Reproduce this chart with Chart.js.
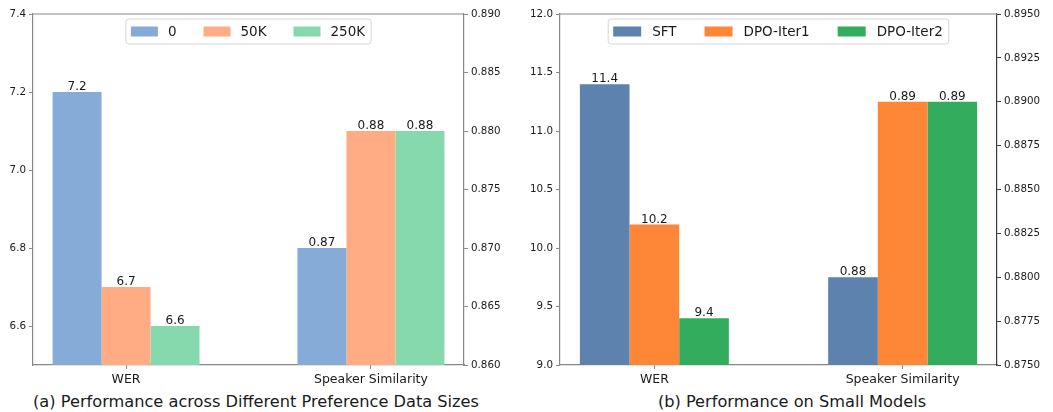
<!DOCTYPE html>
<html>
<head>
<meta charset="utf-8">
<script src="https://cdn.jsdelivr.net/npm/chart.js@4.4.1/dist/chart.umd.min.js"></script>
<style>
  html, body { margin: 0; padding: 0; background: #fff; }
  body { width: 1053px; height: 412px; position: relative; overflow: hidden; font-family: 'DejaVu Sans', sans-serif; }
  .panel { position: absolute; top: 0; height: 390px; }
  .caption { position: absolute; top: 392px; font-size: 16.2px; line-height: 20px; color: #1a1a1a; white-space: nowrap; transform: translateX(-50%); }
</style>
</head>
<body>
<div class="panel" style="left:0;width:525px"><canvas id="chartSizes"></canvas></div>
<div class="panel" style="left:525px;width:528px"><canvas id="chartModels"></canvas></div>
<div class="caption" style="left:256px">(a) Performance across Different Preference Data Sizes</div>
<div class="caption" style="left:792px">(b) Performance on Small Models</div>
<script>
const categories = ['WER', 'Speaker Similarity'];

// (a) preference data sizes
const sizeNames = ['0', '50K', '250K'];
const sizeWer = [7.2, 6.7, 6.6];
const sizeSim = [0.870, 0.880, 0.880];
const sizeColors = ['#84acd6', '#ffac85', '#86d8ad'];
const sizeWerTicks = [6.6, 6.8, 7.0, 7.2, 7.4];
const sizeSimTicks = [0.860, 0.865, 0.870, 0.875, 0.880, 0.885, 0.890];

// (b) small models
const modelNames = ['SFT', 'DPO-Iter1', 'DPO-Iter2'];
const modelWer = [11.4, 10.2, 9.4];
const modelSim = [0.880, 0.890, 0.890];
const modelColors = ['#5d82ad', '#fe8637', '#33ac5d'];
const modelWerTicks = [9.0, 9.5, 10.0, 10.5, 11.0, 11.5, 12.0];
const modelSimTicks = [0.8750, 0.8775, 0.8800, 0.8825, 0.8850, 0.8875, 0.8900, 0.8925, 0.8950];

Chart.defaults.font.family = "'DejaVu Sans', sans-serif";
Chart.defaults.color = '#1a1a1a';

const spineGray = '#888888';

// value labels on top of each bar
const barLabels = {
    id: 'barLabels',
    afterDatasetsDraw(chart) {
        const ctx = chart.ctx;
        ctx.save();
        ctx.font = "12px 'DejaVu Sans'";
        ctx.fillStyle = '#1a1a1a';
        ctx.textAlign = 'center';
        ctx.textBaseline = 'alphabetic';
        chart.data.datasets.forEach((ds, di) => {
            const meta = chart.getDatasetMeta(di);
            meta.data.forEach((bar, j) => {
                const v = ds.data[j].y;
                ctx.fillText(String(Number(v.toFixed(2))), bar.x, bar.y - 2);
            });
        });
        ctx.restore();
    }
};

// top spine + boxed legend inside the plot
const frameLegend = {
    id: 'frameLegend',
    afterDraw(chart) {
        const ctx = chart.ctx;
        const area = chart.chartArea;
        const lg = chart.options.plugins.frameLegend;
        ctx.save();
        ctx.strokeStyle = spineGray;
        ctx.lineWidth = 1.2;
        ctx.beginPath();
        ctx.moveTo(area.left, area.top);
        ctx.lineTo(area.right, area.top);
        ctx.stroke();

        const items = chart.data.datasets.filter(d => d.yAxisID === 'y');
        ctx.font = "13.5px 'DejaVu Sans'";
        const widths = items.map(d => ctx.measureText(d.label).width);
        let inner = 0;
        widths.forEach(w => { inner += lg.handleW + lg.gapIn + w; });
        inner += lg.gapOut * (items.length - 1);
        const boxW = inner + 11;
        const boxH = 25;
        const x0 = (area.left + area.right) / 2 - boxW / 2;
        const y0 = area.top + 5;
        ctx.beginPath();
        ctx.roundRect(x0, y0, boxW, boxH, 3);
        ctx.fillStyle = 'rgba(255,255,255,0.8)';
        ctx.fill();
        ctx.strokeStyle = '#d6d6d6';
        ctx.lineWidth = 1;
        ctx.stroke();

        let x = x0 + 5;
        const cy = y0 + boxH / 2;
        ctx.textAlign = 'left';
        ctx.textBaseline = 'middle';
        items.forEach((d, i) => {
            ctx.fillStyle = d.backgroundColor;
            ctx.fillRect(x, cy - 5, lg.handleW, 10);
            x += lg.handleW + lg.gapIn;
            ctx.fillStyle = '#1a1a1a';
            ctx.fillText(d.label, x, cy + 1);
            x += widths[i] + lg.gapOut;
        });
        ctx.restore();
    }
};

function buildDatasets(names, wer, sim, colors) {
    const sets = [];
    names.forEach((name, i) => {
        sets.push({ label: name, data: [{ x: 0, y: wer[i] }], backgroundColor: colors[i], yAxisID: 'y', stack: 's' + i });
        sets.push({ label: name, data: [{ x: 1, y: sim[i] }], backgroundColor: colors[i], yAxisID: 'y1', stack: 's' + i });
    });
    return sets;
}

function fixedTicks(values) {
    return (scale) => { scale.ticks = values.map(v => ({ value: v })); };
}

function makeChart(canvasId, p) {
    return new Chart(document.getElementById(canvasId), {
        type: 'bar',
        data: { datasets: buildDatasets(p.names, p.wer, p.sim, p.colors) },
        options: {
            responsive: true,
            maintainAspectRatio: false,
            animation: false,
            events: [],
            layout: { padding: { top: 14, left: 0, right: 0, bottom: 0 } },
            datasets: { bar: { categoryPercentage: 0.6, barPercentage: 1.0, borderWidth: 0 } },
            plugins: {
                legend: { display: false },
                tooltip: { enabled: false },
                frameLegend: p.legend
            },
            scales: {
                x: {
                    type: 'linear',
                    min: -0.38,
                    max: 1.38,
                    offset: false,
                    afterBuildTicks: fixedTicks([0, 1]),
                    afterFit: (s) => { s.height = 25; },
                    grid: { drawOnChartArea: false, drawTicks: true, tickLength: 4, color: spineGray, offset: false },
                    border: { display: true, color: spineGray, width: 1.2 },
                    ticks: { font: { size: 12.5 }, padding: 3, maxRotation: 0, callback: (v) => categories[v] }
                },
                y: {
                    position: 'left',
                    stacked: false,
                    min: p.yMin,
                    max: p.yMax,
                    afterBuildTicks: fixedTicks(p.yTicks),
                    afterFit: (s) => { s.width = p.yWidth; },
                    grid: { drawOnChartArea: false, drawTicks: true, tickLength: 4, color: spineGray },
                    border: { display: true, color: spineGray, width: 1.2 },
                    ticks: { font: { size: 10.3 }, padding: 3, callback: (v) => v.toFixed(p.yDec) }
                },
                y1: {
                    position: 'right',
                    stacked: false,
                    min: p.y1Min,
                    max: p.y1Max,
                    afterBuildTicks: fixedTicks(p.y1Ticks),
                    afterFit: (s) => { s.width = p.y1Width; },
                    grid: { drawOnChartArea: false, drawTicks: true, tickLength: 4, color: p.rightColor },
                    border: { display: true, color: p.rightColor, width: 1.2 },
                    ticks: { font: { size: 10.3 }, padding: 3, callback: (v) => v.toFixed(p.y1Dec) }
                }
            }
        },
        plugins: [barLabels, frameLegend]
    });
}

makeChart('chartSizes', {
    names: sizeNames, wer: sizeWer, sim: sizeSim, colors: sizeColors,
    yMin: 6.5, yMax: 7.4, yTicks: sizeWerTicks, yDec: 1,
    y1Min: 0.860, y1Max: 0.890, y1Ticks: sizeSimTicks, y1Dec: 3,
    yWidth: 33, y1Width: 61, rightColor: spineGray,
    legend: { handleW: 27, gapIn: 10, gapOut: 27 }
});

makeChart('chartModels', {
    names: modelNames, wer: modelWer, sim: modelSim, colors: modelColors,
    yMin: 9.0, yMax: 12.0, yTicks: modelWerTicks, yDec: 1,
    y1Min: 0.875, y1Max: 0.895, y1Ticks: modelSimTicks, y1Dec: 4,
    yWidth: 35, y1Width: 56, rightColor: '#3a3a3a',
    legend: { handleW: 28, gapIn: 11, gapOut: 28 }
});
</script>
</body>
</html>
